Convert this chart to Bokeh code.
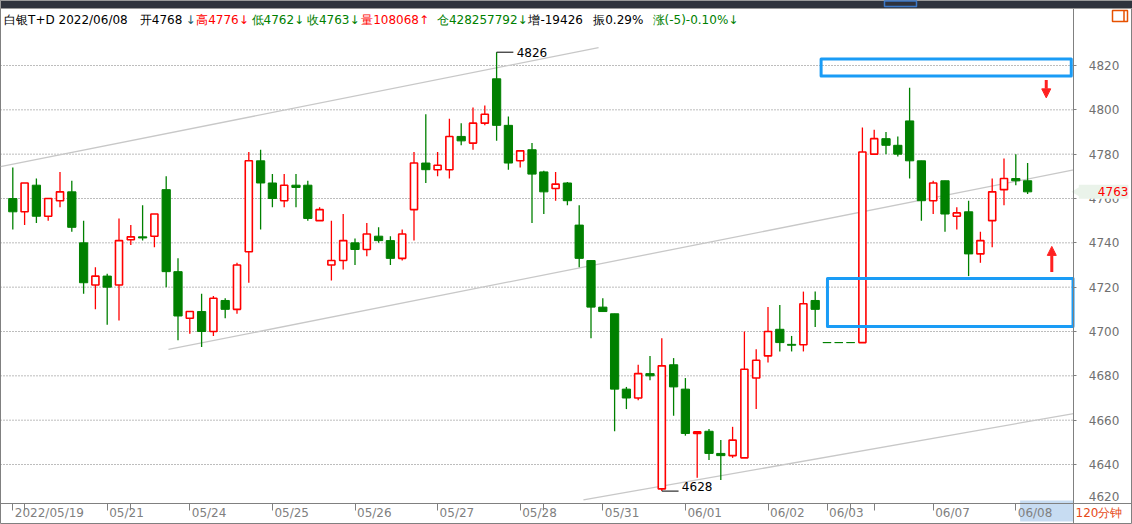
import math
from bokeh.plotting import figure
from bokeh.models import FixedTicker, Label, Arrow, NormalHead, Range1d
from bokeh.embed import file_html
from bokeh.resources import INLINE

# ---------------- data (120-minute bars, 白银T+D) ----------------
open_ = [4760, 4754, 4766, 4752, 4759, 4763, 4740, 4721, 4725, 4721,
         4741.4, 4742.7, 4743, 4764, 4727, 4706, 4709, 4700, 4714, 4710,
         4736, 4777, 4767, 4759, 4766, 4766, 4750, 4730, 4732, 4740,
         4737, 4743, 4741, 4733, 4755, 4776, 4773, 4773, 4788, 4785,
         4794, 4814, 4793, 4777, 4782, 4772, 4764.5, 4767, 4748, 4732,
         4711, 4708, 4674, 4670, 4681, 4629, 4685, 4674, 4654, 4655,
         4645, 4644, 4643, 4679, 4689, 4701, 4694.2, 4694, 4714, 4695,
         4695, 4695, 4695, 4780, 4787, 4784, 4795, 4777, 4759, 4768,
         4752, 4754, 4735, 4750, 4764, 4769, 4768]
high = [4774, 4767, 4769, 4760, 4772, 4768, 4750, 4729, 4726, 4751,
        4748, 4757, 4753, 4770, 4733, 4709, 4717, 4716, 4715, 4731,
        4781, 4782, 4771, 4771, 4771, 4768, 4756, 4750, 4753, 4742,
        4749, 4747, 4743, 4746, 4781, 4798, 4781, 4796, 4794, 4801,
        4802, 4826, 4797, 4781.5, 4785, 4772.5, 4772, 4767.5, 4757, 4732,
        4715, 4708, 4675, 4685, 4689, 4697, 4688, 4679, 4655, 4656,
        4651, 4657, 4700, 4692, 4711, 4712, 4698, 4718, 4718, 4695,
        4695, 4695, 4792, 4791, 4790, 4788, 4810, 4777, 4768, 4768,
        4756, 4759, 4745, 4769, 4778, 4780, 4776]
low = [4746, 4748, 4749, 4750, 4756, 4745, 4717, 4710, 4703, 4705,
       4739, 4741, 4738, 4720, 4696, 4699, 4693, 4698, 4706, 4708,
       4722, 4746, 4756, 4756, 4756, 4750, 4750, 4723, 4728, 4730,
       4734, 4740, 4730, 4732, 4741, 4767, 4770, 4769, 4784, 4782,
       4793, 4786, 4773, 4774, 4749, 4753, 4759, 4757, 4729, 4697,
       4709, 4655, 4665, 4669, 4678, 4628, 4662, 4653, 4634, 4642,
       4633, 4643, 4643, 4665, 4686, 4691, 4691, 4691, 4702, 4695,
       4695, 4695, 4695, 4780, 4780, 4779, 4769, 4750, 4753, 4745,
       4746, 4725, 4731, 4738, 4757, 4766, 4762]
close = [4754, 4767, 4752, 4760, 4763, 4747, 4722, 4725, 4720, 4741,
         4742.7, 4742.2, 4753, 4727, 4707, 4709, 4700, 4715, 4710, 4730,
         4777, 4767, 4760, 4766, 4765, 4751, 4755, 4732, 4741, 4737,
         4744, 4741, 4733, 4744, 4776, 4773, 4775, 4788, 4786, 4794,
         4798, 4793, 4776, 4781.5, 4771, 4763, 4766.5, 4759, 4733, 4711,
         4709, 4674, 4670, 4681, 4680, 4684.5, 4675, 4654, 4654.7, 4645,
         4644, 4651, 4683, 4687, 4700, 4695, 4693.8, 4712.5, 4710, 4695,
         4695, 4695, 4781, 4787, 4784, 4780, 4777, 4759, 4767, 4753,
         4753.5, 4735, 4741, 4763, 4769, 4768, 4763]

price_ticks = [4640, 4660, 4680, 4700, 4720, 4740, 4760, 4780, 4800, 4820]
clamped_tick_label = "4620"
date_tick_idx = [0, 8, 15, 22, 29, 36, 43, 50, 57, 64, 69, 78, 85]
date_labels = ["2022/05/19", "05/21", "05/24", "05/25", "05/26", "05/27", "05/28",
               "05/31", "06/01", "06/02", "06/03", "06/07", "06/08"]
extra_tick_idx = [1, 10, 45, 71, 73]

# drawn trend channel lines (bar index, price)
trend_x0 = [-1.04, 13.19, 48.36]
trend_y0 = [4774.4, 4691.9, 4624.0]
trend_x1 = [49.64, 89.9, 89.9]
trend_y1 = [4828.1, 4772.9, 4663.0]

# blue marking boxes (bar index, price)
box_left = [68.5, 69.04]
box_right = [89.7, 89.85]
box_bottom = [4815.3, 4702.3]
box_top = [4822.9, 4723.9]

# red arrows (bar index, price)
arrow_x = [87.58, 88.05]
arrow_y0 = [4813.5, 4726.8]
arrow_y1 = [4805.4, 4738.4]

volume_text = "108068"
oi_text = "428257792"
oi_change_text = "-19426"
amplitude_text = "0.29%"
change_text = "(-5)-0.10%"
period_text = "120分钟"
symbol_text = "白银T+D 2022/06/08"

# ---------------- layout constants (pixels) ----------------
W, H = 1132, 524
BAR0_PX, BAR_PX = 12.3, 11.8          # centre of first bar, bar spacing
REF_PRICE, REF_PRICE_PY, UNIT_PX = 4820, 65.0, 2.2167
AXIS_PX, XAXIS_PY, CHROME_PY = 1073.3, 503.0, 8.0

GREEN = "#008000"
RED = "#ff0000"
GRAY = "#7a7a7a"
FONT = "DejaVu Sans"


def px_x(px):
    return (px - BAR0_PX) / BAR_PX


def py_y(py):
    return REF_PRICE - (py - REF_PRICE_PY) / UNIT_PX


x_lo, x_hi = px_x(0), px_x(W)
y_lo, y_hi = py_y(H), py_y(0)
axis_x = px_x(AXIS_PX)
axis_y = py_y(XAXIS_PY)

p = figure(width=W, height=H, x_range=Range1d(x_lo, x_hi), y_range=Range1d(y_lo, y_hi),
           y_axis_location="right", output_backend="svg", toolbar_location=None,
           min_border=0)
p.background_fill_color = "white"
p.border_fill_color = "white"
p.outline_line_color = "#808080"
p.xgrid.visible = False
p.ygrid.visible = False

# price axis (fixed at the right edge of the chart area)
yax = p.yaxis[0]
yax.fixed_location = axis_x
yax.ticker = FixedTicker(ticks=price_ticks)
yax.axis_line_color = "#808080"
yax.major_tick_line_color = "#808080"
yax.major_tick_out = 3
yax.major_tick_in = 0
yax.minor_tick_line_color = None
yax.major_label_standoff = 12
yax.major_label_text_font = FONT
yax.major_label_text_font_size = "12px"
yax.major_label_text_color = "#707070"

# time axis (fixed at the bottom of the chart area)
xax = p.xaxis[0]
xax.fixed_location = axis_y
xax.ticker = FixedTicker(ticks=date_tick_idx, minor_ticks=extra_tick_idx)
xax.major_label_overrides = {t: "" for t in date_tick_idx}
xax.axis_line_color = "#808080"
xax.major_tick_line_color = "#808080"
xax.minor_tick_line_color = "#808080"
xax.major_tick_out = 7
xax.major_tick_in = 0
xax.minor_tick_out = 7
xax.minor_tick_in = 0

# dotted horizontal grid, only across the chart area
p.segment(x0=[x_lo] * len(price_ticks), y0=price_ticks,
          x1=[axis_x] * len(price_ticks), y1=price_ticks,
          line_color=GRAY, line_dash="1 2", line_width=1)

# trend lines
p.segment(x0=trend_x0, y0=trend_y0, x1=trend_x1, y1=trend_y1,
          line_color="#c8c8c8", line_width=1.3)

# candles
idx = list(range(len(close)))
is_up = [c > o for o, c in zip(open_, close)]
colors = [RED if u else GREEN for u in is_up]
wick_i = [i for i in idx if high[i] > low[i]]
p.segment(x0=[idx[i] for i in wick_i], y0=[low[i] for i in wick_i],
          x1=[idx[i] for i in wick_i], y1=[high[i] for i in wick_i],
          line_color=[colors[i] for i in wick_i], line_width=1.3)
dn = [i for i in idx if not is_up[i]]
up = [i for i in idx if is_up[i]]
p.vbar(x=[idx[i] for i in dn], width=0.7,
       top=[max(open_[i], close[i]) for i in dn], bottom=[min(open_[i], close[i]) for i in dn],
       fill_color=GREEN, line_color=GREEN, line_width=1)
p.vbar(x=[idx[i] for i in up], width=0.6,
       top=[max(open_[i], close[i]) for i in up], bottom=[min(open_[i], close[i]) for i in up],
       fill_color="white", line_color=RED, line_width=1.6)

# max / min markers
imax = max(idx, key=lambda i: high[i])
imin = min(idx, key=lambda i: low[i])
p.segment(x0=[imax, imin], y0=[high[imax], low[imin]],
          x1=[imax + 1.42, imin + 1.42], y1=[high[imax], low[imin]],
          line_color="black", line_width=1)
p.add_layout(Label(x=imax + 1.7, y=high[imax], text=f"{high[imax]:.0f}",
                   text_baseline="middle", text_align="left", text_font=FONT,
                   text_font_size="12px", text_color="black"))
p.add_layout(Label(x=imin + 1.7, y=low[imin], text=f"{low[imin]:.0f}",
                   text_baseline="bottom", text_align="left", text_font=FONT,
                   text_font_size="12px", text_color="black"))

# blue boxes
p.quad(left=box_left, right=box_right, bottom=box_bottom, top=box_top,
       fill_color=None, line_color="#1a9cf6", line_width=3, line_join="round")

# arrows
for ax_, ay0, ay1 in zip(arrow_x, arrow_y0, arrow_y1):
    p.add_layout(Arrow(end=NormalHead(size=9, fill_color="#ff2020", line_color="#ff2020"),
                       x_start=ax_, y_start=ay0, x_end=ax_, y_end=ay1,
                       line_color="#ff2020", line_width=3))

# window chrome strip on top
p.quad(left=[x_lo], right=[x_hi], top=[y_hi], bottom=[py_y(CHROME_PY)],
       fill_color="#2f333d", line_color="#9a9a9a", line_width=1, level="overlay")
p.quad(left=[px_x(884)], right=[px_x(916)], top=[py_y(0.5)], bottom=[py_y(6)],
       fill_color="#2f333d", line_color="#3b78c8", line_width=1.5, level="overlay")

# header
BLACK = "black"
header = [
    (symbol_text, BLACK, 3.6),
    (f"开{open_[-1]:.0f}", BLACK, 139.3),
    ("↓", "#205a6a", 185.0),
    (f"高{high[-1]:.0f}↓", RED, 195.7),
    (f"低{low[-1]:.0f}↓", GREEN, 251.0),
    (f"收{close[-1]:.0f}↓", GREEN, 306.4),
    (f"量{volume_text}↑", RED, 360.7),
    (f"仓{oi_text}↓", GREEN, 436.4),
    (f"增{oi_change_text}", BLACK, 527.9),
    (f"振{amplitude_text}", BLACK, 592.7),
    (f"涨{change_text}↓", GREEN, 652.0),
]
for txt, col, rx in header:
    p.add_layout(Label(x=rx, y=H - 19.5, x_units="screen", y_units="screen",
                       text=txt, text_color=col, text_font=FONT, text_font_size="12px",
                       text_align="left", text_baseline="middle"))

# highlight of the last date on the time axis
p.quad(left=[px_x(1019.6)], right=[axis_x], top=[py_y(500)], bottom=[py_y(521)],
       fill_color="#c7dcf2", line_color=None)

# date labels, left-aligned just right of their tick
for t, lab in zip(date_tick_idx, date_labels):
    p.add_layout(Label(x=t + 0.17, y=H - 512, x_units="data", y_units="screen",
                       text=lab, text_color="#808080", text_font=FONT, text_font_size="12px",
                       text_align="left", text_baseline="middle"))

# period label in the axis corner
p.add_layout(Label(x=1075, y=H - 512, x_units="screen", y_units="screen",
                   text=period_text, text_color="#e64a19", text_font=FONT,
                   text_font_size="12px", text_align="left", text_baseline="middle"))

# clamped lowest price label
p.add_layout(Label(x=AXIS_PX + 15, y=H - 495.5, x_units="screen", y_units="screen",
                   text=clamped_tick_label, text_color="#707070", text_font=FONT,
                   text_font_size="12px", text_align="left", text_baseline="middle"))

# last price marker on the price axis
p.scatter(x=[px_x(AXIS_PX + 5)], y=[close[-1]], marker="triangle", angle=math.pi / 2,
          size=13, fill_color="#eaf3ea", line_color=None)
p.add_layout(Label(x=px_x(AXIS_PX + 5), y=close[-1], x_units="data", y_units="data",
                   text="\u00a0" * 5 + f"{close[-1]:.0f}", text_color=RED, text_font=FONT,
                   text_font_size="12px", text_align="left", text_baseline="middle",
                   background_fill_color="#eaf3ea"))

# small icon top-right
p.quad(left=[px_x(1112)], right=[px_x(1127)], top=[py_y(10)], bottom=[py_y(21)],
       fill_color=None, line_color="#e65100", line_width=1.5)
p.segment(x0=[px_x(1123.5)], y0=[py_y(10)], x1=[px_x(1123.5)], y1=[py_y(21)],
          line_color="#e65100", line_width=1.5)

open("out.html", "w").write(file_html(p, INLINE))
